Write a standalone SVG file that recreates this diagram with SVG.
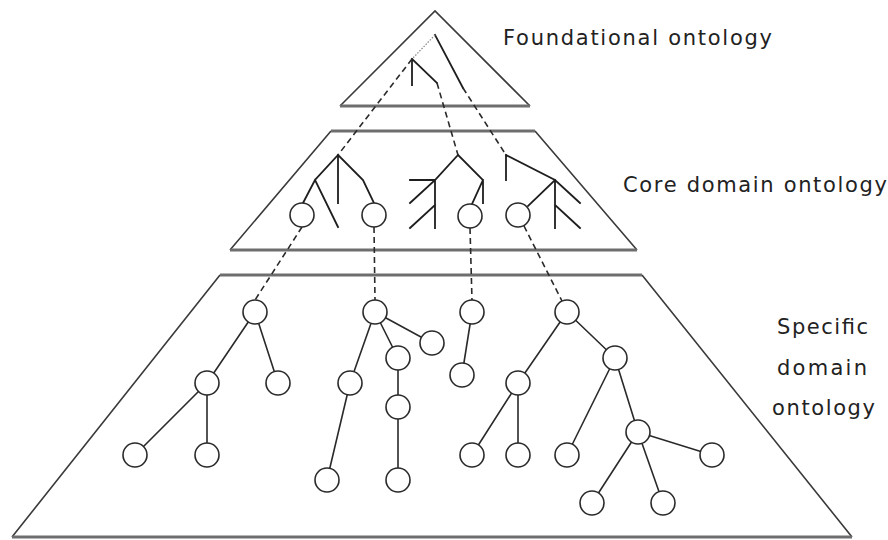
<svg xmlns="http://www.w3.org/2000/svg" width="888" height="540" viewBox="0 0 888 540">
<style>
.edge{stroke:#3a3a3a;stroke-width:1.6;fill:none}
.base{stroke:#6e6e6e;stroke-width:3;fill:none}
.br{stroke:#1e1e1e;stroke-width:1.8;fill:none;stroke-linecap:square}
.ln{stroke:#2a2a2a;stroke-width:1.6;fill:none}
.dash{stroke:#2a2a2a;stroke-width:1.6;fill:none;stroke-dasharray:6,4}
.dot{stroke:#8a8a8a;stroke-width:1.3;fill:none;stroke-dasharray:1.5,1.5}
.nd{fill:#fff;stroke:#2a2a2a;stroke-width:1.6}
.lbl{font-family:"DejaVu Sans","Liberation Sans",sans-serif;font-size:21px;fill:#222}
</style>
<rect width="888" height="540" fill="#fff"/>
<g id="layer-foundational">
<path class="edge" d="M340,106 L435,11 L530,106"/>
<line class="base" x1="340" y1="106" x2="530" y2="106"/>
<path class="br" d="M435,35 L463,88 M412,59 L412,85 M412,59 L437,83"/>
<text class="lbl" x="503" y="45" textLength="269" lengthAdjust="spacing">Foundational ontology</text>
</g>
<g id="layer-core">
<path class="edge" d="M331,131 L230,250 M535,131 L637,250"/>
<line class="base" x1="331" y1="131" x2="535" y2="131"/>
<line class="base" x1="230" y1="250" x2="637" y2="250"/>
<path class="br" d="M338,155 L338,203 M338,155 L315,180 L338,227 M315,180 L303,203 M338,155 L363,180 L374,203"/>
<path class="br" d="M458,155 L435,180 L410,180 M435,180 L435,228 M435,180 L410,203 M435,205 L410,228 M458,155 L483,180 L483,203 M483,180 L472,204"/>
<path class="br" d="M506,155 L506,180 M506,155 L555,180 L580,203 M555,180 L555,228 M555,205 L580,228 M555,180 L528,206"/>
<text class="lbl" x="623" y="192" textLength="264" lengthAdjust="spacing">Core domain ontology</text>
</g>
<g id="layer-specific">
<path class="edge" d="M220,275 L12,537 M642,275 L852,537"/>
<line class="base" x1="220" y1="275" x2="642" y2="275"/>
<line class="base" x1="12" y1="537" x2="852" y2="537"/>
<text class="lbl" x="777" y="334" textLength="91" lengthAdjust="spacing">Specific</text>
<text class="lbl" x="777" y="375" textLength="90" lengthAdjust="spacing">domain</text>
<text class="lbl" x="772" y="415" textLength="103" lengthAdjust="spacing">ontology</text>
</g>
<g id="connectors">
<line class="dot" x1="435" y1="35" x2="412" y2="59"/>
<line class="dash" x1="412" y1="59" x2="338" y2="155"/>
<line class="dash" x1="437" y1="83" x2="458" y2="155"/>
<line class="dash" x1="463" y1="88" x2="506" y2="155"/>
<line class="dash" x1="302" y1="227" x2="255" y2="300"/>
<line class="dash" x1="374" y1="227" x2="375" y2="300"/>
<line class="dash" x1="470" y1="228" x2="472" y2="300"/>
<line class="dash" x1="524" y1="226" x2="562" y2="301"/>
<path class="ln" d="M255,312 L207,383 M255,312 L278,383 M207,383 L135,455 M207,383 L207,455"/>
<path class="ln" d="M375,312 L432,343 M375,312 L398,358 M375,312 L350,383 M398,358 L398,480 M350,383 L327,480"/>
<path class="ln" d="M472,312 L462,375"/>
<path class="ln" d="M567,312 L518,383 M567,312 L615,358 M518,383 L472,455 M518,383 L518,455 M615,358 L567,455 M615,358 L638,432 M638,432 L712,455 M638,432 L592,503 M638,432 L663,503"/>
</g>
<g id="core-nodes">
<g id="c1"><circle class="nd" cx="302" cy="215" r="12"/></g>
<g id="c2"><circle class="nd" cx="374" cy="215" r="12"/></g>
<g id="c3"><circle class="nd" cx="470" cy="216" r="12"/></g>
<g id="c4"><circle class="nd" cx="518" cy="215" r="12"/></g>
</g>
<g id="specific-nodes">
<g id="t1-root"><circle class="nd" cx="255" cy="312" r="12"/></g>
<g id="t1-a"><circle class="nd" cx="207" cy="383" r="12"/></g>
<g id="t1-b"><circle class="nd" cx="278" cy="383" r="12"/></g>
<g id="t1-c"><circle class="nd" cx="135" cy="455" r="12"/></g>
<g id="t1-d"><circle class="nd" cx="207" cy="455" r="12"/></g>
<g id="t2-root"><circle class="nd" cx="375" cy="312" r="12"/></g>
<g id="t2-a"><circle class="nd" cx="432" cy="343" r="12"/></g>
<g id="t2-b"><circle class="nd" cx="398" cy="358" r="12"/></g>
<g id="t2-c"><circle class="nd" cx="350" cy="383" r="12"/></g>
<g id="t2-d"><circle class="nd" cx="398" cy="407" r="12"/></g>
<g id="t2-e"><circle class="nd" cx="398" cy="480" r="12"/></g>
<g id="t2-f"><circle class="nd" cx="327" cy="480" r="12"/></g>
<g id="t3-root"><circle class="nd" cx="472" cy="312" r="12"/></g>
<g id="t3-a"><circle class="nd" cx="462" cy="375" r="12"/></g>
<g id="t4-root"><circle class="nd" cx="567" cy="312" r="12"/></g>
<g id="t4-a"><circle class="nd" cx="518" cy="383" r="12"/></g>
<g id="t4-b"><circle class="nd" cx="615" cy="358" r="12"/></g>
<g id="t4-c"><circle class="nd" cx="472" cy="455" r="12"/></g>
<g id="t4-d"><circle class="nd" cx="518" cy="455" r="12"/></g>
<g id="t4-e"><circle class="nd" cx="567" cy="455" r="12"/></g>
<g id="t4-f"><circle class="nd" cx="638" cy="432" r="12"/></g>
<g id="t4-g"><circle class="nd" cx="712" cy="455" r="12"/></g>
<g id="t4-h"><circle class="nd" cx="592" cy="503" r="12"/></g>
<g id="t4-i"><circle class="nd" cx="663" cy="503" r="12"/></g>
</g>
</svg>
